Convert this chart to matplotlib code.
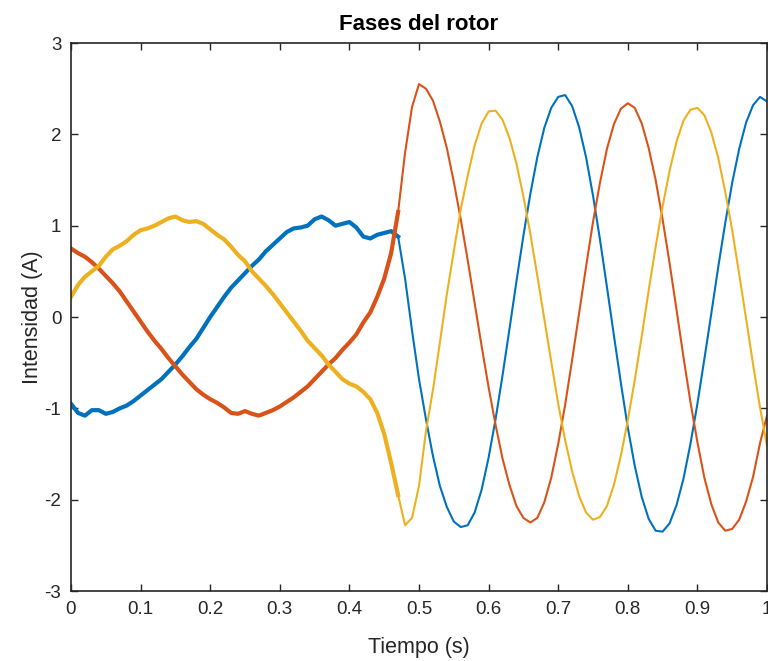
import numpy as np
import matplotlib.pyplot as plt

# tiempo (s), muestreado cada 0.01 s
tiempo = np.round(np.arange(0, 101) * 0.01, 2)

fase_a = [-0.95, -1.05, -1.08, -1.02, -1.02, -1.06, -1.04, -1.00, -0.97, -0.92,
          -0.86, -0.80, -0.74, -0.68, -0.60, -0.52, -0.43, -0.33, -0.24, -0.12,
          0.00, 0.11, 0.22, 0.32, 0.40, 0.48, 0.56, 0.63, 0.72, 0.79,
          0.86, 0.93, 0.97, 0.98, 1.00, 1.07, 1.10, 1.06, 1.00, 1.02,
          1.04, 0.98, 0.88, 0.86, 0.90, 0.92, 0.94, 0.88, 0.42, -0.15,
          -0.68, -1.12, -1.52, -1.85, -2.08, -2.24, -2.30, -2.28, -2.14, -1.89,
          -1.54, -1.12, -0.64, -0.13, 0.39, 0.89, 1.35, 1.75, 2.07, 2.29,
          2.41, 2.43, 2.31, 2.08, 1.75, 1.33, 0.85, 0.33, -0.20, -0.72,
          -1.21, -1.63, -1.97, -2.21, -2.34, -2.35, -2.26, -2.06, -1.77, -1.39,
          -0.95, -0.46, 0.04, 0.55, 1.03, 1.47, 1.84, 2.13, 2.32, 2.41,
          2.36]

fase_b = [0.75, 0.70, 0.66, 0.60, 0.53, 0.45, 0.37, 0.28, 0.17, 0.06,
          -0.05, -0.16, -0.26, -0.35, -0.45, -0.54, -0.63, -0.71, -0.79, -0.85,
          -0.90, -0.94, -0.99, -1.05, -1.06, -1.03, -1.06, -1.08, -1.05, -1.02,
          -0.98, -0.93, -0.88, -0.82, -0.76, -0.68, -0.60, -0.52, -0.45, -0.36,
          -0.28, -0.19, -0.06, 0.05, 0.22, 0.42, 0.70, 1.15, 1.80, 2.30,
          2.55, 2.50, 2.37, 2.14, 1.85, 1.48, 1.07, 0.62, 0.15, -0.32,
          -0.77, -1.18, -1.55, -1.84, -2.07, -2.20, -2.25, -2.20, -2.03, -1.76,
          -1.39, -0.96, -0.47, 0.04, 0.55, 1.04, 1.47, 1.84, 2.11, 2.28,
          2.34, 2.29, 2.12, 1.85, 1.50, 1.07, 0.59, 0.08, -0.44, -0.93,
          -1.37, -1.76, -2.05, -2.25, -2.34, -2.32, -2.22, -2.02, -1.75, -1.38,
          -1.08]

fase_c = [0.22, 0.35, 0.44, 0.50, 0.56, 0.66, 0.74, 0.78, 0.83, 0.90,
          0.95, 0.97, 1.00, 1.04, 1.08, 1.10, 1.06, 1.04, 1.05, 1.02,
          0.96, 0.90, 0.85, 0.77, 0.68, 0.61, 0.50, 0.42, 0.34, 0.25,
          0.15, 0.05, -0.05, -0.15, -0.26, -0.34, -0.42, -0.52, -0.60, -0.68,
          -0.73, -0.76, -0.82, -0.90, -1.05, -1.28, -1.60, -1.95, -2.28, -2.20,
          -1.85, -1.25, -0.80, -0.28, 0.25, 0.72, 1.18, 1.55, 1.88, 2.12,
          2.25, 2.26, 2.16, 1.96, 1.68, 1.32, 0.91, 0.45, -0.02, -0.49,
          -0.95, -1.35, -1.69, -1.96, -2.14, -2.22, -2.19, -2.07, -1.84, -1.52,
          -1.13, -0.69, -0.21, 0.29, 0.77, 1.21, 1.60, 1.92, 2.15, 2.27,
          2.29, 2.21, 2.02, 1.74, 1.37, 0.95, 0.47, -0.02, -0.52, -0.99,
          -1.41]

colores = ['#0072BD', '#D95319', '#EDB120']
corte = 47  # antes de t=0.47 la señal lleva mucho rizado

plt.rcParams['font.family'] = ['Liberation Sans', 'DejaVu Sans']
plt.rcParams['axes.unicode_minus'] = False

fig = plt.figure(figsize=(7.68, 6.61), dpi=100)
ax = fig.add_axes([71 / 768, 70 / 661, 696 / 768, 548 / 661])

for serie, color in zip([fase_a, fase_b, fase_c], colores):
    ax.plot(tiempo[:corte + 1], serie[:corte + 1], color=color, linewidth=3.0,
            solid_joinstyle='round')
    ax.plot(tiempo[corte:], serie[corte:], color=color, linewidth=1.5)

ax.set_xlim(0, 1)
ax.set_ylim(-3, 3)
ax.set_xticks(np.arange(0, 1.01, 0.1))
ax.set_xticklabels(['0', '0.1', '0.2', '0.3', '0.4', '0.5', '0.6', '0.7', '0.8', '0.9', '1'])
ax.set_yticks(range(-3, 4))

gris = '#262626'
for s in ax.spines.values():
    s.set_color(gris)
    s.set_linewidth(1.2)
ax.tick_params(direction='in', length=5, width=1.0, colors=gris, labelsize=13.5,
               top=True, right=True, pad=7)

ax.set_title('Fases del rotor', fontsize=16, fontweight='bold', color='black', pad=9)
ax.set_xlabel('Tiempo (s)', fontsize=15.5, color=gris, labelpad=14)
ax.set_ylabel('Intensidad (A)', fontsize=15.5, color=gris, labelpad=1)

fig.savefig('out.png', dpi=100)
